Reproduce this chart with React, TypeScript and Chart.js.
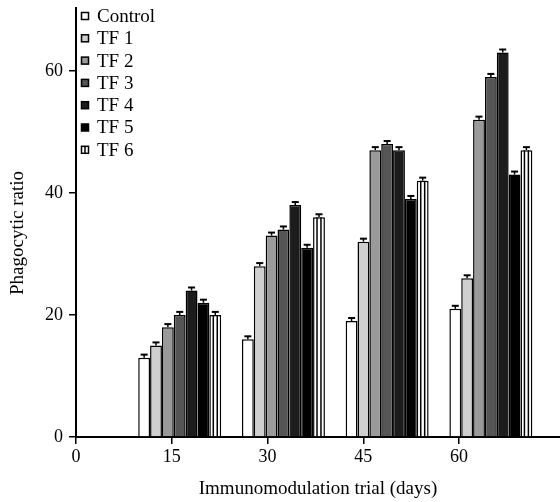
import React, { useEffect, useRef } from "react";
import { Chart, registerables } from "chart.js";

Chart.register(...registerables);

const days = [15, 30, 45, 60];
const seriesLabels = ["Control", "TF 1", "TF 2", "TF 3", "TF 4", "TF 5", "TF 6"];
const control = [13, 16, 19, 21];
const tf1 = [15, 28, 32, 26];
const tf2 = [18, 33, 47, 52];
const tf3 = [20, 34, 48, 59];
const tf4 = [24, 38, 47, 63];
const tf5 = [22, 31, 39, 43];
const tf6 = [20, 36, 42, 47];
const errors = [0.5, 0.5, 0.5, 0.5];
const xTicks = [0, 15, 30, 45, 60];
const yTicks = [0, 20, 40, 60];
const fills = ["#ffffff", "#cfcfcf", "#9a9a9a", "#555555", "#1c1c1c", "#000000", "#ffffff"];

const FONT = "'Liberation Serif', 'Times New Roman', serif";
const Y_TITLE = "Phagocytic ratio";

const errorBarPlugin = {
  id: "errorBars",
  afterDatasetsDraw(chart: any) {
    const ctx = chart.ctx;
    const yScale = chart.scales.y;
    ctx.save();
    chart.data.datasets.forEach((ds: any, i: number) => {
      const meta = chart.getDatasetMeta(i);
      meta.data.forEach((bar: any, j: number) => {
        const v = ds.data[j].y;
        const top = yScale.getPixelForValue(v + errors[j]);
        if (i === 6) {
          ctx.strokeStyle = "#000";
          ctx.lineWidth = 1.5;
          const w = bar.width;
          [-w / 6, w / 6].forEach((dx) => {
            ctx.beginPath();
            ctx.moveTo(bar.x + dx, bar.y);
            ctx.lineTo(bar.x + dx, bar.base);
            ctx.stroke();
          });
        }
        ctx.strokeStyle = "#000";
        ctx.lineWidth = 1.5;
        ctx.beginPath();
        ctx.moveTo(bar.x, bar.y);
        ctx.lineTo(bar.x, top);
        ctx.stroke();
        ctx.lineWidth = 2;
        ctx.beginPath();
        ctx.moveTo(bar.x - 3.5, top);
        ctx.lineTo(bar.x + 3.5, top);
        ctx.stroke();
      });
    });
    ctx.restore();
  },
};

const legendPlugin = {
  id: "customLegend",
  afterDraw(chart: any) {
    const ctx = chart.ctx;
    ctx.save();
    ctx.font = `19px ${FONT}`;
    ctx.textBaseline = "middle";
    chart.data.datasets.forEach((ds: any, i: number) => {
      const cy = 16 + i * 22.3;
      const bx = 81.5;
      const size = 7;
      ctx.fillStyle = ds.backgroundColor;
      ctx.fillRect(bx, cy - size / 2, size, size);
      ctx.strokeStyle = "#000";
      ctx.lineWidth = 1.5;
      ctx.strokeRect(bx, cy - size / 2, size, size);
      if (i === 6) {
        ctx.beginPath();
        ctx.moveTo(bx + size / 2, cy - size / 2);
        ctx.lineTo(bx + size / 2, cy + size / 2);
        ctx.stroke();
      }
      ctx.fillStyle = "#000";
      ctx.fillText(ds.label, 97, cy + 1);
    });
    ctx.translate(18, 233);
    ctx.rotate(-Math.PI / 2);
    ctx.textAlign = "center";
    ctx.fillStyle = "#000";
    ctx.fillText(Y_TITLE, 0, 0);
    ctx.restore();
  },
};

export default function App() {
  const canvasRef = useRef<HTMLCanvasElement>(null);

  useEffect(() => {
    const canvas = canvasRef.current;
    if (!canvas) return;
    const values = [control, tf1, tf2, tf3, tf4, tf5, tf6];
    const chart = new Chart(canvas, {
      type: "bar",
      data: {
        datasets: values.map((arr, i) => ({
          label: seriesLabels[i],
          data: arr.map((v, j) => ({ x: days[j], y: v })),
          backgroundColor: fills[i],
          borderColor: "#000",
          borderWidth: 1.5,
          categoryPercentage: 0.8,
          barPercentage: 1.0,
          xAxisID: "xb",
        })),
      },
      options: {
        animation: false,
        responsive: false,
        maintainAspectRatio: false,
        layout: { padding: { top: 8, right: 0, left: 0, bottom: 0 } },
        plugins: {
          legend: { display: false },
          tooltip: { enabled: false },
        },
        scales: {
          xb: {
            type: "linear",
            position: "bottom",
            min: 0,
            max: 70,
            offset: false,
            display: false,
            afterBuildTicks: (scale: any) => {
              scale.ticks = days.map((v) => ({ value: v }));
            },
          },
          x: {
            type: "linear",
            position: "bottom",
            min: 0,
            max: 75.8,
            offset: false,
            afterBuildTicks: (scale: any) => {
              scale.ticks = xTicks.map((v) => ({ value: v }));
            },
            afterFit: (scale: any) => {
              scale.height = 65;
            },
            border: { color: "#000", width: 2 },
            grid: {
              drawOnChartArea: false,
              drawTicks: true,
              tickLength: 7,
              color: "#000",
              lineWidth: 1.5,
              offset: false,
            },
            ticks: {
              color: "#000",
              font: { family: FONT, size: 18 },
              padding: 2,
              maxRotation: 0,
              autoSkip: false,
            },
            title: {
              display: true,
              text: "Immunomodulation trial (days)",
              color: "#000",
              font: { family: FONT, size: 19 },
              padding: { top: 0, bottom: 2 },
            },
          },
          y: {
            min: 0,
            max: 70.3,
            afterBuildTicks: (scale: any) => {
              scale.ticks = yTicks.map((v) => ({ value: v }));
            },
            afterFit: (scale: any) => {
              scale.width = 76;
              scale.paddingTop = 0;
            },
            border: { color: "#000", width: 2 },
            grid: {
              drawOnChartArea: false,
              drawTicks: true,
              tickLength: 7,
              color: "#000",
              lineWidth: 1.5,
            },
            ticks: {
              color: "#000",
              font: { family: FONT, size: 18 },
              padding: 6,
            },
            title: { display: false },
          },
        },
      },
      plugins: [errorBarPlugin, legendPlugin],
    });
    return () => chart.destroy();
  }, []);

  return (
    <div style={{ position: "fixed", left: 0, top: 0, width: 560, height: 502, background: "#fff" }}>
      <canvas ref={canvasRef} width={560} height={502} style={{ width: 560, height: 502 }} />
    </div>
  );
}
